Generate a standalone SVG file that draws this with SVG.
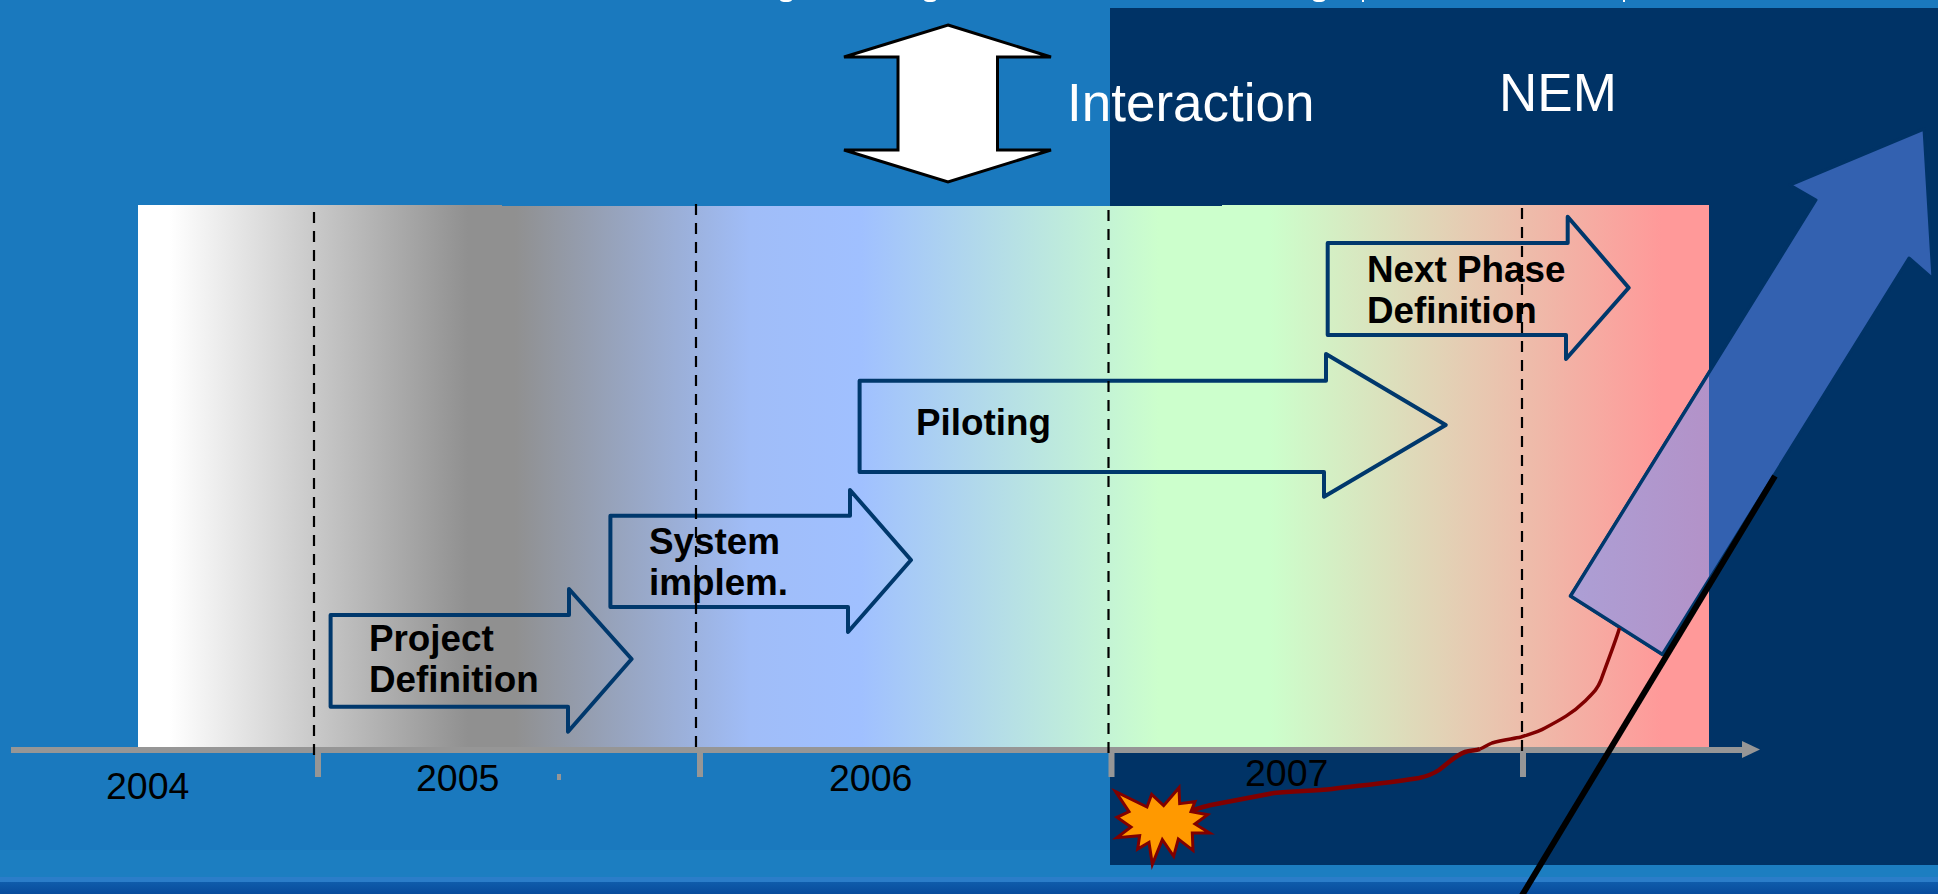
<svg xmlns="http://www.w3.org/2000/svg" width="1938" height="894" viewBox="0 0 1938 894">
<style>
.step{fill:none;stroke:#00386c;stroke-width:4;stroke-linejoin:round}
.lbl{font:bold 36.8px "Liberation Sans",Arial,sans-serif;fill:#000}
.yr{font:37.5px "Liberation Sans",Arial,sans-serif;fill:#000}
.big{font:53px "Liberation Sans",Arial,sans-serif;fill:#fff}
.dash{stroke:#000;stroke-width:2.2;stroke-dasharray:11 8;fill:none}
.tick{fill:#969696}
</style>
<defs>
<linearGradient id="band" gradientUnits="userSpaceOnUse" x1="138" y1="0" x2="1709" y2="0">
<stop offset="0.02" stop-color="#fff"/>
<stop offset="0.21" stop-color="#909090"/>
<stop offset="0.24" stop-color="#909090"/>
<stop offset="0.39" stop-color="#a0bdf8"/>
<stop offset="0.46" stop-color="#a0c0ff"/>
<stop offset="0.65" stop-color="#ccffcc"/>
<stop offset="0.72" stop-color="#ccffcc"/>
<stop offset="0.97" stop-color="#ff9999"/>
</linearGradient>
<linearGradient id="lav" gradientUnits="userSpaceOnUse" x1="1570" y1="0" x2="1709" y2="0">
<stop offset="0" stop-color="#ac9fd5"/>
<stop offset="1" stop-color="#b392c8"/>
</linearGradient>
<linearGradient id="foot" x1="0" y1="0" x2="0" y2="1">
<stop offset="0" stop-color="#0f5cab"/>
<stop offset="1" stop-color="#084c9c"/>
</linearGradient>
<clipPath id="inBand"><rect x="138" y="205" width="1571" height="543"/></clipPath>
</defs>

<g id="background">
<rect width="1938" height="894" fill="#1a79be"/>
<rect y="850" width="1938" height="27" fill="#1c7ec1"/>
<rect y="877" width="1938" height="5" fill="#2b7dc9"/>
<rect y="882" width="1938" height="12" fill="url(#foot)"/>
<rect x="1110" y="8" width="828" height="857" fill="#003366"/>
<g fill="#fff">
<ellipse cx="786" cy="0" rx="6" ry="2"/>
<ellipse cx="930" cy="0" rx="6" ry="2"/>
<ellipse cx="1319" cy="0" rx="6" ry="2"/>
<rect x="1362" y="0" width="2" height="2"/>
<rect x="1623" y="0" width="2" height="2"/>
</g>
</g>

<g id="timeline-band">
<path d="M138 205H502V206H1222V205H1709V748H138Z" fill="url(#band)"/>
</g>

<g id="growth-arrow">
<path d="M1924 129L1790 185L1816 200L1570.5 596L1662.5 654.5L1909 258L1933 279Z" fill="#3361b0" stroke="#003366" stroke-width="3" stroke-linejoin="round"/>
<path d="M1924 129L1790 185L1816 200L1570.5 596L1662.5 654.5L1909 258L1933 279Z" fill="url(#lav)" stroke="#00386c" stroke-width="3.5" stroke-linejoin="round" clip-path="url(#inBand)"/>
</g>

<g id="axis">
<rect x="11" y="747" width="1733" height="6" fill="#969696"/>
<path class="tick" d="M1742 741L1760 749.5L1742 758Z"/>
<rect class="tick" x="315" y="750" width="6" height="27"/>
<rect class="tick" x="697" y="750" width="6" height="27"/>
<rect class="tick" x="1108.5" y="750" width="6" height="27"/>
<rect class="tick" x="1520" y="750" width="6" height="27"/>
<rect class="tick" x="557" y="774" width="4" height="6"/>
</g>

<g id="project-definition">
<path class="step" d="M330.6 615H569V589L631.6 659L568 731.7V706.7H330.6Z"/>
<text class="lbl" x="369" y="650.5">Project</text>
<text class="lbl" x="369" y="691.5">Definition</text>
</g>
<g id="system-implem">
<path class="step" d="M610.4 515.7H850V490L911 560L848 632V607H610.4Z"/>
<text class="lbl" x="649" y="553.5">System</text>
<text class="lbl" x="649" y="594.5">implem.</text>
</g>
<g id="piloting">
<path class="step" d="M859.6 380.7H1326V354L1445.7 425L1324 496.7V472H859.6Z"/>
<text class="lbl" x="916" y="434.5">Piloting</text>
</g>
<g id="next-phase-definition">
<path class="step" d="M1327.7 243H1567.7V216.7L1628.7 287.7L1566 359V335H1327.7Z"/>
<text class="lbl" x="1367" y="282">Next Phase</text>
<text class="lbl" x="1367" y="322.5">Definition</text>
</g>

<g id="interaction">
<path d="M948 25L1051 57H997.5V150H1051L948 182L844 150H898V57H844Z" fill="#fff" stroke="#000" stroke-width="3"/>
<text class="big" x="1067" y="121">Interaction</text>
</g>
<g id="nem"><text class="big" x="1499" y="111">NEM</text></g>

<g id="years">
<text class="yr" x="106" y="798.5">2004</text>
<text class="yr" x="416" y="791">2005</text>
<text class="yr" x="829" y="791">2006</text>
<text class="yr" x="1245" y="785.5">2007</text>
</g>

<g id="connectors">
<path class="dash" d="M314 212V760"/>
<path class="dash" d="M696 204V753"/>
<path class="dash" d="M1108.5 210V760"/>
<path class="dash" d="M1522 208V757"/>
<path d="M1191.5 810.7C1198 808 1205 806.5 1211 805L1274 793C1295 791 1315 791 1332 789C1365 785 1395 782 1419 778C1428 776 1433 774 1439 770C1447 764 1456 755 1465 752C1471 750 1475 751 1480 749" fill="none" stroke="#800000" stroke-width="4.5"/>
<path d="M1480 749C1485 747 1487 745 1492 743C1502 740 1512 739 1521 737C1530 734 1538 732 1545 728C1560 720 1573 713 1584 702C1593 693 1597 690 1601 680C1610 655 1616 640 1619.5 628" fill="none" stroke="#800000" stroke-width="3.5"/>
<path d="M1775 476L1521 897" fill="none" stroke="#000" stroke-width="6"/>
</g>

<g id="burst">
<path transform="translate(1105 775) scale(.3333)" d="M32 50L126 96L140 58L176 92L222 38L224 86L270 80L258 110L308 119L270 147L314 174L262 174L264 226L220 192L206 244L172 194L142 268L132 202L98 222L104 182L36 188L78 156L36 127L72 110Z" fill="#ff9900" stroke="#800000" stroke-width="9" stroke-miterlimit="10"/>
</g>
</svg>
